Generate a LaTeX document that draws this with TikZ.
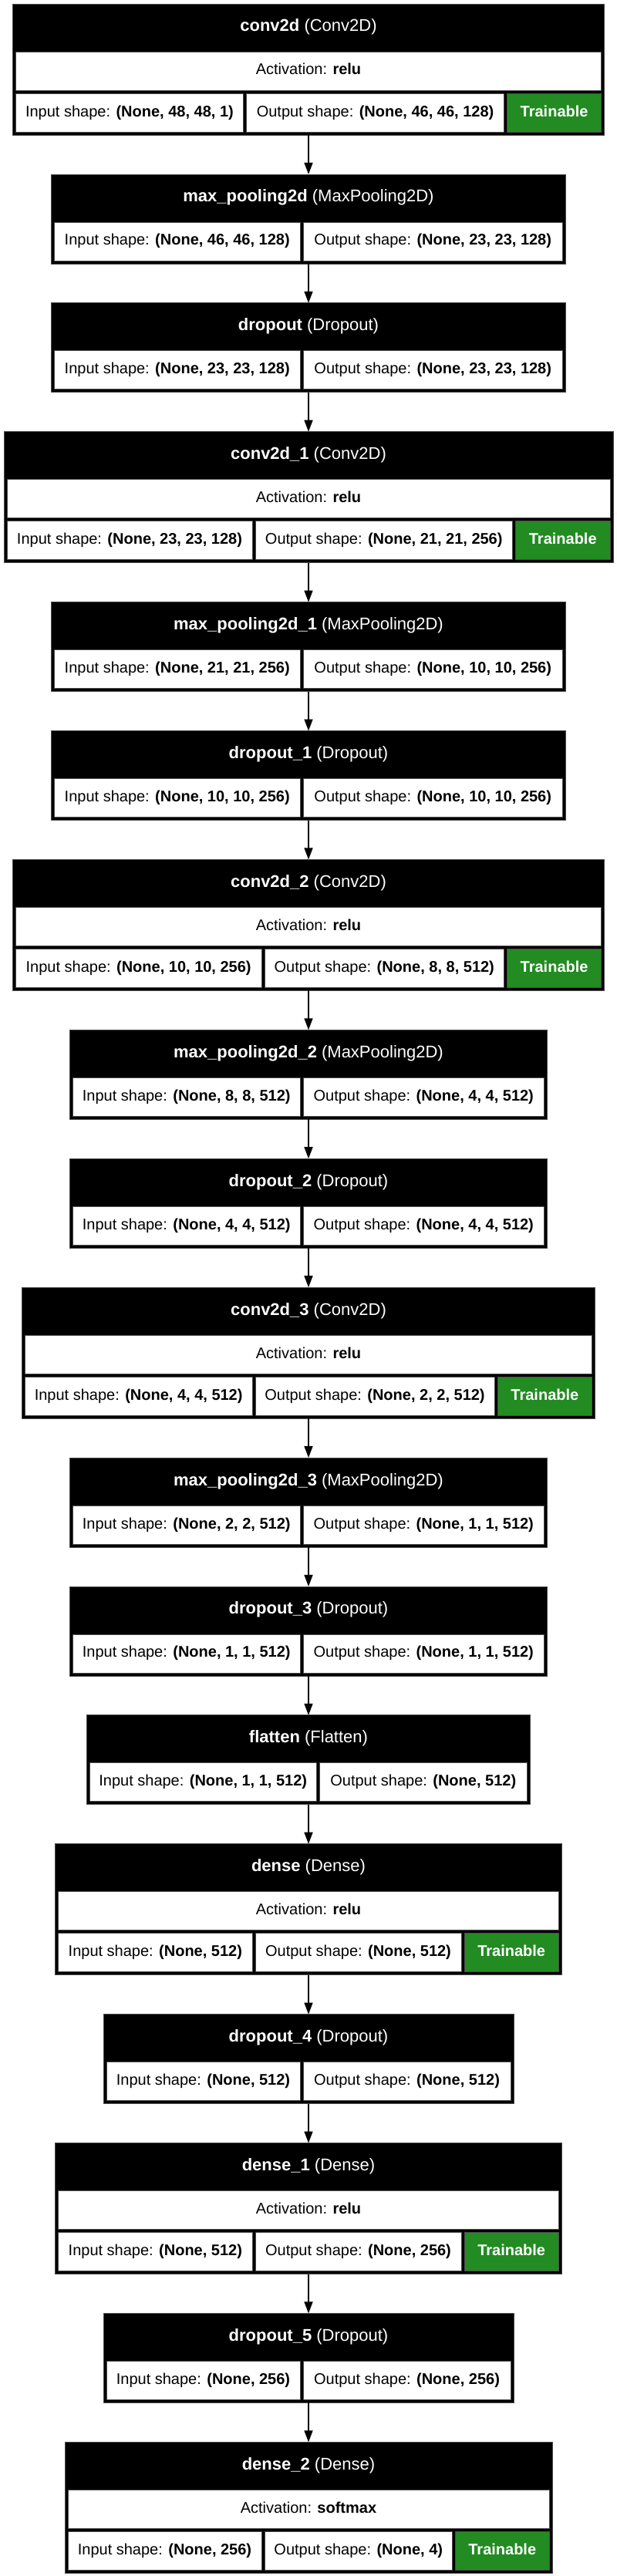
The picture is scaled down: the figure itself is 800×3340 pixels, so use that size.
\documentclass[tikz,border=0pt]{standalone}
\usepackage{fontspec}
\setmainfont{Liberation Sans}
\usetikzlibrary{arrows.meta}
\definecolor{trgreen}{HTML}{228B22}
\tikzset{
  outerbox/.style={rectangle, fill=black, draw=black!70, line width=0.8pt, inner sep=0pt, outer sep=0pt},
  cell/.style={rectangle, fill=white, draw=black!70, line width=0.8pt, inner sep=0pt, outer sep=0pt,
    minimum height=50pt, text height=14pt, text depth=4pt, font=\fontsize{20pt}{24pt}\selectfont, text=black},
  trcell/.style={cell, fill=trgreen, text=white, font=\fontsize{20pt}{24pt}\selectfont\bfseries},
  titletext/.style={inner sep=0pt, outer sep=0pt, text=white, text height=15pt, text depth=5pt,
    font=\fontsize{22pt}{26pt}\selectfont},
  arr/.style={-{Triangle[length=15pt,width=11pt]}, line width=1.6pt, draw=black},
}
% name, top, half-width, split, title, in, out
\newcommand\smallbox[7]{%
  \pgfmathsetmacro\bxL{400-#3}%
  \pgfmathsetmacro\bxR{400+#3}%
  \pgfmathsetmacro\bxW{2*#3}%
  \pgfmathsetmacro\bxA{#4-2-\bxL-4}%
  \pgfmathsetmacro\bxB{\bxR-4-#4-2}%
  \node[outerbox, minimum width=\bxW pt, minimum height=116pt, anchor=north] (#1) at (400,#2) {};
  \node[titletext] (#1-t) at (400,#2+31) {#5};
  \node[cell, minimum width=\bxA pt, anchor=north west] (#1-in) at (\bxL+4,#2+62) {Input shape: \textbf{#6}};
  \node[cell, minimum width=\bxB pt, anchor=north west] (#1-out) at (#4+2,#2+62) {Output shape: \textbf{#7}};
}
% name, top, half-width, split1, split2, title, activation, in, out
\newcommand\bigbox[9]{%
  \pgfmathsetmacro\bxL{400-#3}%
  \pgfmathsetmacro\bxR{400+#3}%
  \pgfmathsetmacro\bxW{2*#3}%
  \pgfmathsetmacro\bxF{2*#3-8}%
  \pgfmathsetmacro\bxA{#4-2-\bxL-4}%
  \pgfmathsetmacro\bxB{#5-2-#4-2}%
  \pgfmathsetmacro\bxC{\bxR-4-#5-2}%
  \node[outerbox, minimum width=\bxW pt, minimum height=170pt, anchor=north] (#1) at (400,#2) {};
  \node[titletext] (#1-t) at (400,#2+31) {#6};
  \node[cell, minimum width=\bxF pt, anchor=north west] (#1-act) at (\bxL+4,#2+62) {Activation: \textbf{#7}};
  \node[cell, minimum width=\bxA pt, anchor=north west] (#1-in) at (\bxL+4,#2+116) {Input shape: \textbf{#8}};
  \node[cell, minimum width=\bxB pt, anchor=north west] (#1-out) at (#4+2,#2+116) {Output shape: \textbf{#9}};
  \node[trcell, minimum width=\bxC pt, anchor=north west] (#1-tr) at (#5+2,#2+116) {Trainable};
}
\begin{document}
\begin{tikzpicture}[x=1pt,y=-1pt]
\useasboundingbox[fill=white] (0,0) rectangle (800,3340);
\bigbox{c0}{5}{383.7}{317.6}{655.5}{\textbf{conv2d} (Conv2D)}{relu}{(None, 48, 48, 1)}{(None, 46, 46, 128)}
\smallbox{p0}{225.9}{333.5}{391}{\textbf{max\_pooling2d} (MaxPooling2D)}{(None, 46, 46, 128)}{(None, 23, 23, 128)}
\smallbox{d0}{392.8}{333.5}{391}{\textbf{dropout} (Dropout)}{(None, 23, 23, 128)}{(None, 23, 23, 128)}
\bigbox{c1}{559.7}{395}{329}{666.5}{\textbf{conv2d\_1} (Conv2D)}{relu}{(None, 23, 23, 128)}{(None, 21, 21, 256)}
\smallbox{p1}{780.6}{333.5}{391}{\textbf{max\_pooling2d\_1} (MaxPooling2D)}{(None, 21, 21, 256)}{(None, 10, 10, 256)}
\smallbox{d1}{947.5}{333.5}{391}{\textbf{dropout\_1} (Dropout)}{(None, 10, 10, 256)}{(None, 10, 10, 256)}
\bigbox{c2}{1114.4}{383.7}{341}{655.5}{\textbf{conv2d\_2} (Conv2D)}{relu}{(None, 10, 10, 256)}{(None, 8, 8, 512)}
\smallbox{p2}{1335.3}{309.5}{391}{\textbf{max\_pooling2d\_2} (MaxPooling2D)}{(None, 8, 8, 512)}{(None, 4, 4, 512)}
\smallbox{d2}{1502.2}{309.5}{391}{\textbf{dropout\_2} (Dropout)}{(None, 4, 4, 512)}{(None, 4, 4, 512)}
\bigbox{c3}{1669.1}{371.7}{329}{643}{\textbf{conv2d\_3} (Conv2D)}{relu}{(None, 4, 4, 512)}{(None, 2, 2, 512)}
\smallbox{p3}{1890}{309.5}{391}{\textbf{max\_pooling2d\_3} (MaxPooling2D)}{(None, 2, 2, 512)}{(None, 1, 1, 512)}
\smallbox{d3}{2056.9}{309.5}{391}{\textbf{dropout\_3} (Dropout)}{(None, 1, 1, 512)}{(None, 1, 1, 512)}
\smallbox{fl}{2223.8}{287.5}{412}{\textbf{flatten} (Flatten)}{(None, 1, 1, 512)}{(None, 512)}
\bigbox{de}{2390.7}{328.3}{329}{600}{\textbf{dense} (Dense)}{relu}{(None, 512)}{(None, 512)}
\smallbox{d4}{2611.6}{266}{391}{\textbf{dropout\_4} (Dropout)}{(None, 512)}{(None, 512)}
\bigbox{dea}{2778.5}{328.3}{329}{600}{\textbf{dense\_1} (Dense)}{relu}{(None, 512)}{(None, 256)}
\smallbox{d5}{2999.4}{266}{391}{\textbf{dropout\_5} (Dropout)}{(None, 256)}{(None, 256)}
\bigbox{deb}{3166.3}{316}{341}{588.5}{\textbf{dense\_2} (Dense)}{softmax}{(None, 256)}{(None, 4)}
\foreach \a/\b in {c0/p0, p0/d0, d0/c1, c1/p1, p1/d1, d1/c2, c2/p2, p2/d2, d2/c3, c3/p3, p3/d3, d3/fl, fl/de, de/d4, d4/dea, dea/d5, d5/deb}
  \draw[arr] (\a.south) -- (\b.north);
\end{tikzpicture}
\end{document}
